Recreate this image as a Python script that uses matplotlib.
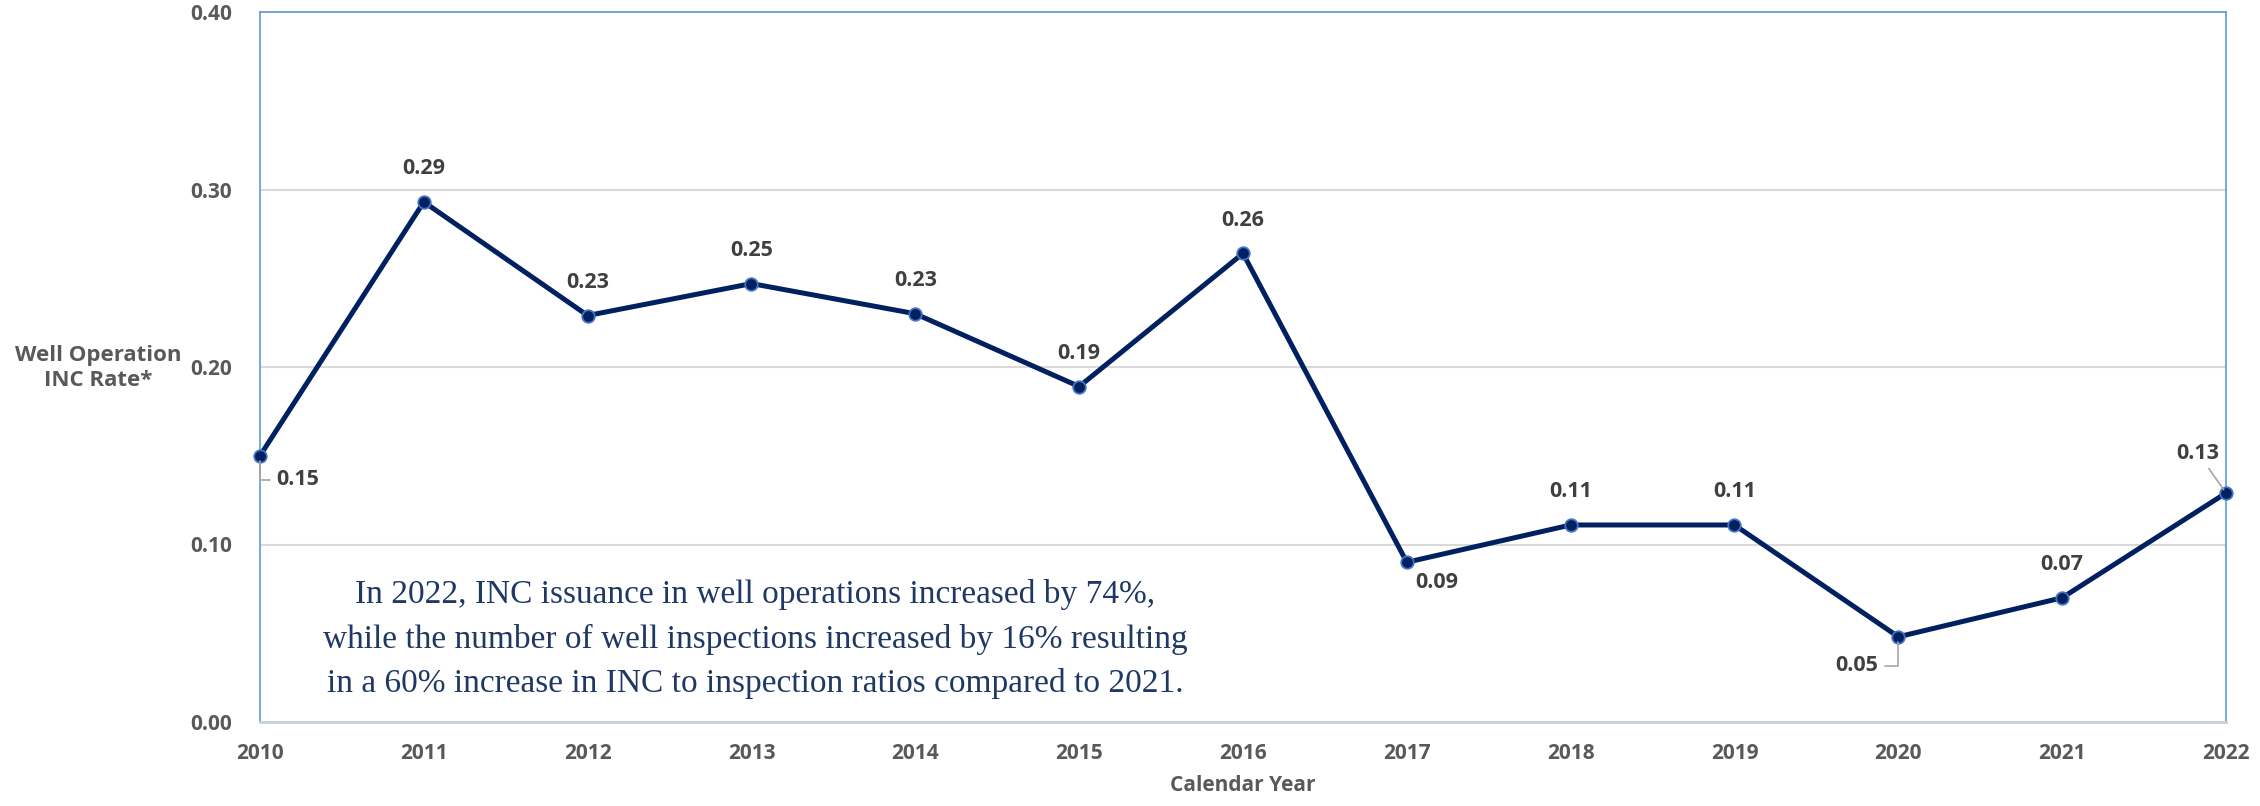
import matplotlib
matplotlib.use("Agg")
import matplotlib.pyplot as plt

# values
years = [2010, 2011, 2012, 2013, 2014, 2015, 2016, 2017, 2018, 2019, 2020, 2021, 2022]
inc_rate = [0.150, 0.293, 0.229, 0.247, 0.230, 0.189, 0.264, 0.090, 0.111, 0.111, 0.048, 0.070, 0.129]
rate_labels = ['0.15', '0.29', '0.23', '0.25', '0.23', '0.19', '0.26', '0.09', '0.11', '0.11', '0.05', '0.07', '0.13']
y_ticks = [0.0, 0.1, 0.2, 0.3, 0.4]

note = ("In 2022, INC issuance in well operations increased by 74%,\n"
        "while the number of well inspections increased by 16% resulting\n"
        "in a 60% increase in INC to inspection ratios compared to 2021.")

plt.rcParams['font.family'] = ['Open Sans', 'DejaVu Sans']

NAVY = '#002060'
GREY_TXT = '#595959'
LABEL_TXT = '#404040'
FRAME = '#5B9BD5'
FS = 15

fig = plt.figure(figsize=(22.6, 8.06), dpi=100)
ax = fig.add_axes([260 / 2260, 84 / 806, (2226 - 260) / 2260, (722 - 12) / 806])

ax.plot(years, inc_rate, color=NAVY, linewidth=3.6, marker='o', markersize=9,
        markerfacecolor=NAVY, markeredgecolor='#4472C4', markeredgewidth=1.3,
        zorder=3, clip_on=False)

ax.set_xlim(2010, 2022)
ax.set_ylim(0, 0.4)
ax.set_xticks(years)
ax.set_xticklabels([str(y) for y in years])
ax.set_yticks(y_ticks)
ax.set_yticklabels(['%.2f' % v for v in y_ticks])
ax.tick_params(axis='both', length=0, labelsize=FS, labelcolor=GREY_TXT)
ax.tick_params(axis='x', pad=15)
ax.tick_params(axis='y', pad=20)
for lbl in ax.get_xticklabels() + ax.get_yticklabels():
    lbl.set_fontweight('bold')

ax.grid(axis='y', color='#D9D9D9', linewidth=1.5, zorder=0)
ax.set_axisbelow(True)
for side in ['top', 'left', 'right']:
    ax.spines[side].set_color(FRAME)
    ax.spines[side].set_linewidth(1.2)
ax.spines['bottom'].set_color('#C9D0D8')
ax.spines['bottom'].set_linewidth(2.0)

ax.set_xlabel('Calendar Year', fontsize=FS, fontweight='bold', color=GREY_TXT, labelpad=8)
fig.text(98 / 2260, 1 - 368 / 806, 'Well Operation\nINC Rate*', ha='center', va='center',
         fontsize=16, fontweight='bold', color=GREY_TXT, linespacing=1.25)

# data labels (offsets in pixels from each point)
offsets = {2010: (38, -24), 2017: (30, -20), 2020: (-42, -29), 2022: (-28, 40)}
for x, y, txt in zip(years, inc_rate, rate_labels):
    dx, dy = offsets.get(x, (0, 33))
    props = None
    if x in (2010, 2020):
        props = dict(arrowstyle='-', color='#A6A6A6', linewidth=1.2,
                     connectionstyle='angle,angleA=0,angleB=90,rad=0', shrinkA=3, shrinkB=4)
    elif x == 2022:
        props = dict(arrowstyle='-', color='#A6A6A6', linewidth=1.2, shrinkA=2, shrinkB=3)
    ax.annotate(txt, xy=(x, y), xytext=(dx, dy), textcoords='offset pixels',
                ha='center', va='center', fontsize=15.5, fontweight='bold',
                color=LABEL_TXT, arrowprops=props, annotation_clip=False, zorder=4)

fig.text(755 / 2260, 1 - 639 / 806, note, ha='center', va='center',
         fontsize=24, family='Liberation Serif', color='#1F3864', linespacing=1.55)

fig.savefig('out.png', dpi=100)
